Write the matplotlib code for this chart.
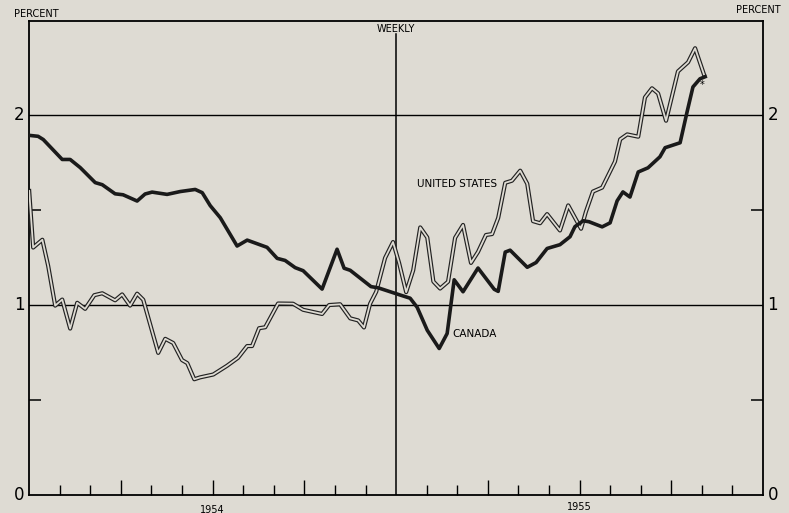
import numpy as np
import matplotlib
matplotlib.use("Agg")
import matplotlib.pyplot as plt

# weekly readings, x in months since start of 1954
canada_month = [0.0, 0.29, 0.46, 1.08, 1.34, 1.67, 2.16, 2.39, 2.81, 3.07, 3.53, 3.79, 4.02, 4.51,
                4.94, 5.43, 5.66, 5.92, 6.25, 6.80, 7.13, 7.78, 8.11, 8.37, 8.70, 8.96, 9.58, 10.07,
                10.30, 10.50, 11.18, 11.41, 12.13, 12.46, 12.69, 13.02, 13.41, 13.67, 13.90, 14.19,
                14.68, 15.21, 15.34, 15.57, 15.73, 16.29, 16.58, 16.94, 17.36, 17.69, 17.85, 18.12,
                18.31, 18.74, 19.00, 19.23, 19.42, 19.65, 19.92, 20.24, 20.63, 20.80, 21.29, 21.52,
                21.71, 21.94, 22.11]
canada_pct = [1.895, 1.890, 1.873, 1.768, 1.768, 1.725, 1.646, 1.635, 1.587, 1.582, 1.549, 1.586,
              1.596, 1.584, 1.599, 1.610, 1.593, 1.525, 1.461, 1.312, 1.343, 1.305, 1.247, 1.236,
              1.198, 1.182, 1.085, 1.295, 1.195, 1.184, 1.098, 1.092, 1.054, 1.037, 0.989, 0.868,
              0.772, 0.851, 1.134, 1.071, 1.196, 1.084, 1.073, 1.280, 1.290, 1.200, 1.225, 1.299,
              1.319, 1.361, 1.414, 1.445, 1.440, 1.413, 1.434, 1.550, 1.597, 1.570, 1.702, 1.724,
              1.782, 1.830, 1.856, 2.020, 2.150, 2.193, 2.204]

us_month = [0.0, 0.13, 0.43, 0.62, 0.85, 1.08, 1.34, 1.57, 1.83, 2.13, 2.39, 2.81, 3.04, 3.30,
            3.53, 3.73, 4.22, 4.45, 4.71, 5.00, 5.17, 5.40, 5.59, 6.02, 6.47, 6.83, 7.13, 7.29,
            7.52, 7.72, 8.14, 8.63, 8.96, 9.58, 9.81, 10.17, 10.50, 10.76, 10.95, 11.15, 11.35,
            11.64, 11.90, 12.10, 12.33, 12.56, 12.79, 13.02, 13.22, 13.44, 13.70, 13.93, 14.19,
            14.45, 14.68, 14.94, 15.14, 15.34, 15.57, 15.79, 16.06, 16.29, 16.48, 16.71, 16.94,
            17.36, 17.63, 18.05, 18.21, 18.44, 18.74, 19.16, 19.33, 19.56, 19.92, 20.14, 20.37,
            20.57, 20.83, 21.22, 21.55, 21.78, 22.07]
us_pct = [1.602, 1.304, 1.345, 1.208, 0.998, 1.030, 0.877, 1.013, 0.981, 1.053, 1.063, 1.026,
          1.057, 0.998, 1.061, 1.029, 0.749, 0.823, 0.801, 0.711, 0.695, 0.610, 0.620, 0.635,
          0.681, 0.723, 0.785, 0.785, 0.879, 0.884, 1.009, 1.008, 0.976, 0.954, 1.001, 1.005,
          0.931, 0.920, 0.883, 1.008, 1.071, 1.249, 1.333, 1.222, 1.069, 1.184, 1.410, 1.357,
          1.125, 1.088, 1.124, 1.355, 1.423, 1.223, 1.281, 1.370, 1.375, 1.460, 1.645, 1.656,
          1.709, 1.640, 1.443, 1.432, 1.480, 1.394, 1.526, 1.403, 1.493, 1.599, 1.620, 1.757,
          1.874, 1.900, 1.888, 2.095, 2.143, 2.116, 1.972, 2.232, 2.280, 2.354, 2.216]

year_labels = ["1954", "1955"]
y_labels = ["0", "1", "2"]

BG = "#dedbd3"

fig = plt.figure(figsize=(7.89, 5.13), dpi=100, facecolor=BG)
ax = fig.add_axes([0.037, 0.035, 0.93, 0.925], facecolor=BG)
ax.set_xlim(0, 24)
ax.set_ylim(0, 2.5)

for side in ["left", "right", "top", "bottom"]:
    ax.spines[side].set_linewidth(1.3)
    ax.spines[side].set_color("black")

# grid lines at 1 and 2, centre divider between years
for yv in [1, 2]:
    ax.axhline(yv, color="black", lw=1.0, zorder=1)
ax.plot([12, 12], [0, 2.43], color="black", lw=1.1, zorder=1)
ax.text(12, 2.455, "WEEKLY", ha="center", va="center", fontsize=7, zorder=5)

# y ticks inward at the half steps, labels outside at 0, 1, 2
ax.set_yticks([0.5, 1.5])
ax.tick_params(axis="y", which="major", direction="in", length=8.5, width=1.1,
               left=True, right=True, labelleft=False, labelright=False)
for i, lab in enumerate(y_labels):
    ax.text(-0.15, i, lab, ha="right", va="center", fontsize=12)
    ax.text(24.15, i, lab, ha="left", va="center", fontsize=12)

# month ticks along bottom, longer at quarters
months = np.arange(1, 24)
quarters = [m for m in months if m % 3 == 0 and m != 12]
others = [m for m in months if m % 3 != 0]
ax.set_xticks(quarters)
ax.set_xticks(others, minor=True)
ax.tick_params(axis="x", which="major", direction="in", length=11, width=1.0, labelbottom=False)
ax.tick_params(axis="x", which="minor", direction="in", length=7, width=1.0)

ax.text(6, -0.05, year_labels[0], ha="center", va="top", fontsize=7)
ax.text(18, -0.035, year_labels[1], ha="center", va="top", fontsize=7)

fig.text(0.018, 0.972, "PERCENT", ha="left", va="center", fontsize=7)
fig.text(0.99, 0.98, "PERCENT", ha="right", va="center", fontsize=7)

# United States: double line (dark outline, light core)
ax.plot(us_month, us_pct, color="#222222", lw=3.0, solid_joinstyle="round", zorder=3)
ax.plot(us_month, us_pct, color=BG, lw=1.3, solid_joinstyle="round", zorder=3.5)

# Canada: heavy solid line
ax.plot(canada_month, canada_pct, color="#1a1a1a", lw=2.6, solid_joinstyle="round", zorder=4)

ax.text(15.3, 1.64, "UNITED STATES", ha="right", va="center", fontsize=7.5, zorder=5)
ax.text(13.85, 0.85, "CANADA", ha="left", va="center", fontsize=7.5, zorder=5)
ax.text(22.0, 2.16, "*", ha="center", va="center", fontsize=7, zorder=5)

fig.savefig("out.png", dpi=100, facecolor=BG)
